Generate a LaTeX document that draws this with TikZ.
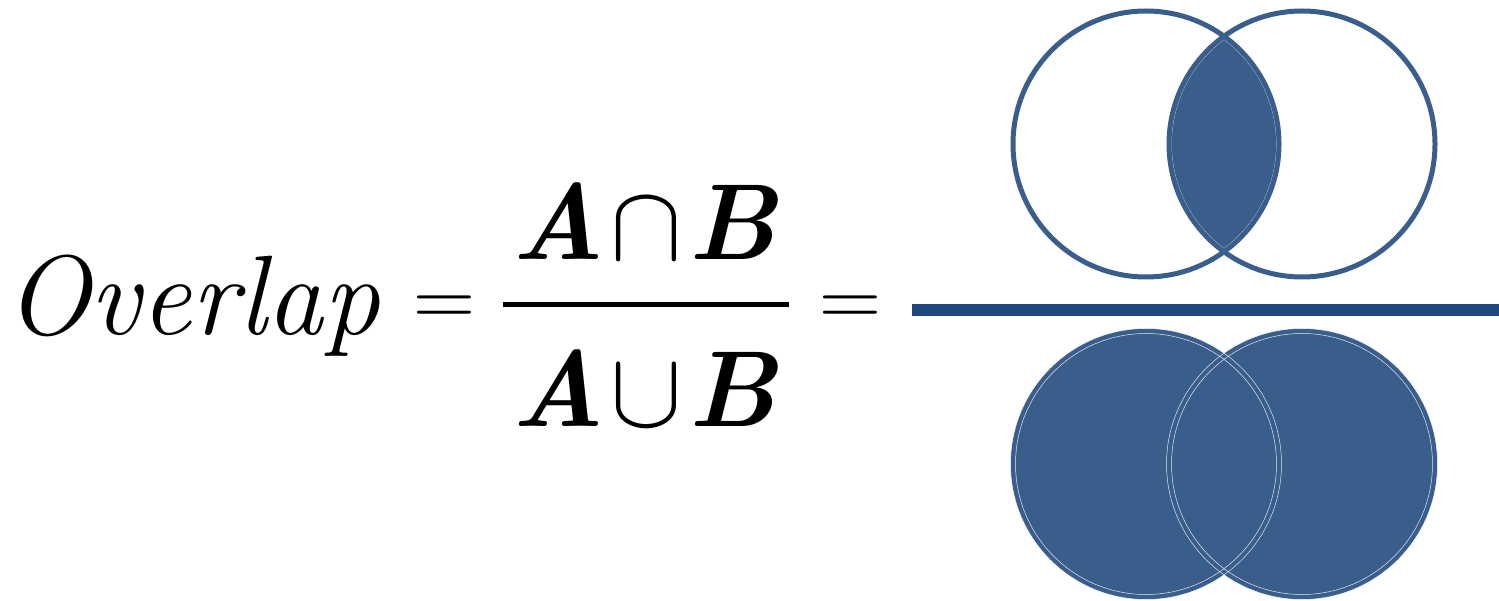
\RequirePackage{fix-cm}
\documentclass[tikz,border=0pt]{standalone}
\definecolor{vennblue}{RGB}{58, 94, 139}
\definecolor{barblue}{RGB}{31, 73, 125}
\newcommand{\vennr}{133pt}

\begin{document}
\begin{tikzpicture}[x=1pt, y=-1pt,
    bigtext/.style={font=\fontsize{113}{120}\selectfont, inner sep=0pt},
    settext/.style={font=\fontsize{108}{120}\selectfont, inner sep=0pt},
    eqtext/.style={font=\fontsize{86}{90}\selectfont, inner sep=0pt},
    ring/.style={draw=vennblue, line width=5pt},
    edge/.style={draw=white, line width=0.5pt, opacity=0.85}]
    \useasboundingbox (0,0) rectangle (1499,601);

    % left side: the formula
    \node[bigtext, anchor=base west] (ov) at (5,335) {\itshape Overlap};
    \node[eqtext, anchor=base] (eqa) at (444,327) {=};
    \node[settext, anchor=base] (num) at (645,260)
        {\textbf{\textit{A}}\hspace{0.05em}$\cap$\hspace{0.05em}\textbf{\textit{B}}};
    \node[settext, anchor=base] (den) at (645,426)
        {\textbf{\textit{A}}\hspace{0.05em}$\cup$\hspace{0.05em}\textbf{\textit{B}}};
    \coordinate (fracL) at (503,305);
    \coordinate (fracR) at (789,305);
    \draw[black, line width=5pt] (fracL) -- (fracR);
    \node[eqtext, anchor=base] (eqb) at (850,327) {=};

    % right side: the circles
    \coordinate (tl) at (1146,144);
    \coordinate (tr) at (1302,144);
    \coordinate (bl) at (1146,464);
    \coordinate (br) at (1302,464);
    \coordinate (barL) at (912,310);
    \coordinate (barR) at (1499,310);

    \begin{scope}
        \clip (tl) circle[radius=\vennr];
        \fill[vennblue] (tr) circle[radius=\vennr];
    \end{scope}
    \begin{scope}
        \clip (tl) circle[radius=\vennr];
        \clip (tr) circle[radius=\vennr];
        \draw[edge] (tl) circle[radius=130.5pt];
        \draw[edge] (tr) circle[radius=130.5pt];
    \end{scope}
    \draw[ring] (tl) circle[radius=\vennr];
    \draw[ring] (tr) circle[radius=\vennr];

    \draw[barblue, line width=12pt] (barL) -- (barR);

    \fill[vennblue] (bl) circle[radius=\vennr] (br) circle[radius=\vennr];
    \draw[ring] (bl) circle[radius=\vennr];
    \draw[ring] (br) circle[radius=\vennr];
    \foreach \c in {bl, br} {
        \draw[edge] (\c) circle[radius=130.5pt];
        \draw[edge] (\c) circle[radius=135.5pt];
    }
\end{tikzpicture}
\end{document}
